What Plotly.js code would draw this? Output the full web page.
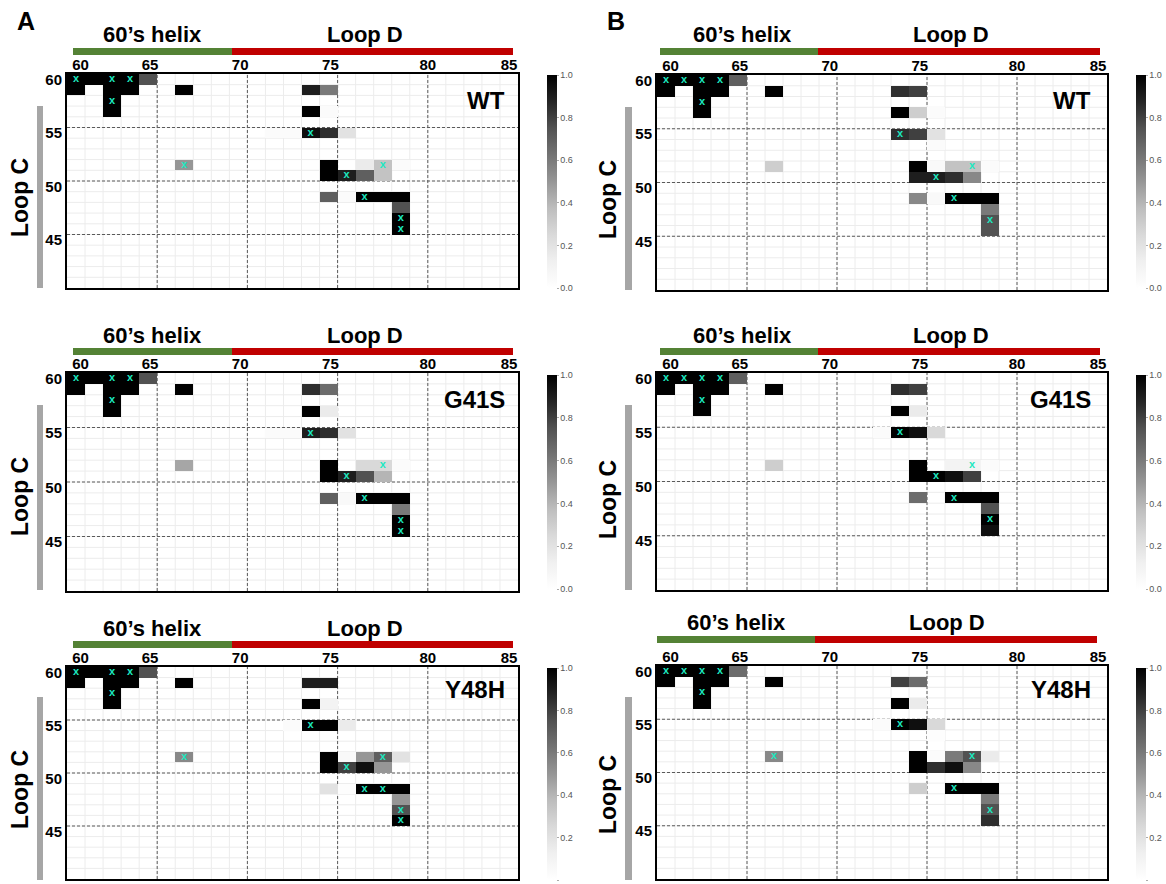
<!DOCTYPE html>
<html>
<head>
<meta charset="utf-8">
<script src="https://cdn.plot.ly/plotly-3.0.1.min.js"></script>
<style>html,body{margin:0;padding:0;background:#fff;}#chart{width:1166px;height:884px;}</style>
</head>
<body>
<div id="chart"></div>
<script>
// ---------- DATA ----------
// Loop D residues (columns) and Loop C residues (rows)
const loopD = [60,61,62,63,64,65,66,67,68,69,70,71,72,73,74,75,76,77,78,79,80,81,82,83,84];
const loopC = [60,59,58,57,56,55,54,53,52,51,50,49,48,47,46,45,44,43,42,41];
const xTickText = ['60','65','70','75','80','85'];
const yTickVals = [60,55,50,45];
const cbTicks = [0,0.2,0.4,0.6,0.8,1.0];

// non-zero cells: [Loop C residue, Loop D residue, value]
const cellsA_WT = [
 [60,60,1],[60,61,1],[60,62,1],[60,63,1],[60,64,0.75],
 [59,60,1],[59,62,1],[59,63,1],[59,66,1],[59,73,0.9],[59,74,0.6],
 [58,62,1],
 [57,62,1],[57,73,1],[57,74,0.03],
 [55,71,0.03],[55,72,0.03],[55,73,0.95],[55,74,0.85],[55,75,0.2],
 [52,66,0.5],[52,74,1],[52,76,0.15],[52,77,0.35],[52,78,0.03],
 [51,74,1],[51,75,0.9],[51,76,0.7],[51,77,0.35],
 [49,74,0.7],[49,75,0.03],[49,76,1],[49,77,1],[49,78,1],
 [48,78,0.75],[47,78,1],[46,78,1]
];
const marksA_WT = [[60,60],[60,62],[60,63],[58,62],[55,73],[52,66],[52,77],[51,75],[49,76],[47,78],[46,78]];

const cellsB_WT = [
 [60,60,1],[60,61,1],[60,62,1],[60,63,1],[60,64,0.7],
 [59,60,1],[59,62,1],[59,63,1],[59,66,1],[59,73,0.85],[59,74,0.8],
 [58,62,1],
 [57,62,1],[57,73,1],[57,74,0.3],[57,75,0.03],
 [55,73,0.85],[55,74,0.8],[55,75,0.2],
 [54,75,0.03],
 [52,66,0.3],[52,74,1],[52,75,0.05],[52,76,0.35],[52,77,0.35],[52,78,0.03],
 [51,74,0.9],[51,75,0.9],[51,76,0.85],[51,77,0.55],
 [49,74,0.55],[49,75,0.05],[49,76,1],[49,77,1],[49,78,1],
 [48,78,0.6],[47,78,0.75],[46,78,0.75]
];
const marksB_WT = [[60,60],[60,61],[60,62],[60,63],[58,62],[55,73],[52,77],[51,75],[49,76],[47,78]];

const cellsA_G41S = [
 [60,60,1],[60,61,1],[60,62,1],[60,63,1],[60,64,0.75],
 [59,60,1],[59,62,1],[59,63,1],[59,66,1],[59,73,0.85],[59,74,0.65],
 [58,62,1],
 [57,62,1],[57,73,1],[57,74,0.15],
 [55,71,0.03],[55,72,0.03],[55,73,0.9],[55,74,0.85],[55,75,0.2],
 [52,66,0.45],[52,74,1],[52,76,0.25],[52,77,0.25],[52,78,0.03],
 [51,74,1],[51,75,0.9],[51,76,0.75],[51,77,0.4],
 [49,74,0.7],[49,75,0.05],[49,76,1],[49,77,1],[49,78,1],
 [48,78,0.6],[47,78,1],[46,78,1]
];
const marksA_G41S = [[60,60],[60,62],[60,63],[58,62],[55,73],[52,77],[51,75],[49,76],[47,78],[46,78]];

const cellsB_G41S = [
 [60,60,1],[60,61,1],[60,62,1],[60,63,1],[60,64,0.7],
 [59,60,1],[59,62,1],[59,63,1],[59,66,1],[59,73,0.85],[59,74,0.8],
 [58,62,1],
 [57,62,1],[57,73,1],[57,74,0.15],
 [55,72,0.03],[55,73,1],[55,74,0.95],[55,75,0.25],
 [52,66,0.3],[52,74,1],[52,76,0.1],[52,77,0.1],[52,78,0.03],
 [51,74,1],[51,75,1],[51,76,0.95],[51,77,0.8],
 [49,74,0.65],[49,76,1],[49,77,1],[49,78,1],
 [48,78,0.75],[47,78,1],[46,78,0.95]
];
const marksB_G41S = [[60,60],[60,61],[60,62],[60,63],[58,62],[55,73],[52,77],[51,75],[49,76],[47,78]];

const cellsA_Y48H = [
 [60,60,1],[60,61,1],[60,62,1],[60,63,1],[60,64,0.75],
 [59,60,1],[59,62,1],[59,63,1],[59,66,1],[59,73,0.9],[59,74,0.9],
 [58,62,1],
 [57,62,1],[57,73,1],[57,74,0.1],
 [55,72,0.03],[55,73,1],[55,74,1],[55,75,0.15],
 [52,66,0.55],[52,74,1],[52,75,0.05],[52,76,0.5],[52,77,0.7],[52,78,0.2],
 [51,74,1],[51,75,0.8],[51,76,0.95],[51,77,0.5],
 [49,74,0.2],[49,75,0.02],[49,76,1],[49,77,1],[49,78,1],
 [48,78,0.5],[47,78,0.75],[46,78,1]
];
const marksA_Y48H = [[60,60],[60,62],[60,63],[58,62],[55,73],[52,66],[52,77],[51,75],[49,76],[49,77],[47,78],[46,78]];

const cellsB_Y48H = [
 [60,60,1],[60,61,1],[60,62,1],[60,63,1],[60,64,0.65],
 [59,60,1],[59,62,1],[59,63,1],[59,66,1],[59,73,0.8],[59,74,0.65],
 [58,62,1],
 [57,62,1],[57,73,1],[57,74,0.15],
 [55,72,0.03],[55,73,1],[55,74,0.95],[55,75,0.25],
 [54,75,0.02],
 [52,66,0.55],[52,74,1],[52,75,0.03],[52,76,0.6],[52,77,0.75],[52,78,0.15],
 [51,74,1],[51,75,0.85],[51,76,0.95],[51,77,0.55],
 [49,74,0.3],[49,76,1],[49,77,1],[49,78,1],
 [48,78,0.6],[47,78,0.75],[46,78,0.85]
];
const marksB_Y48H = [[60,60],[60,61],[60,62],[60,63],[58,62],[55,73],[52,66],[52,77],[49,76],[47,78]];

const panelNames = ['WT','WT','G41S','G41S','Y48H','Y48H'];
const panelCells = [cellsA_WT, cellsB_WT, cellsA_G41S, cellsB_G41S, cellsA_Y48H, cellsB_Y48H];
const panelMarks = [marksA_WT, marksB_WT, marksA_G41S, marksB_G41S, marksA_Y48H, marksB_Y48H];

// ---------- LAYOUT GEOMETRY (pixels) ----------
const W = 1166, H = 884;
const FONT = 'Arial, "Liberation Sans", Helvetica, sans-serif';
const PX = v => v / W;
const PY = v => 1 - v / H;

const cols = [
  {x0:67, x1:518, green:[73,232], red:[232,513], helixX:152, loopDX:365, lcBar:[37,43], lcText:20, cbX:547, labelX:507},
  {x0:657, x1:1107, green:[660,818], red:[818,1100], helixX:742, loopDX:951, lcBar:[625,632], lcText:608, cbX:1136, labelX:1093}
];
const rows = [
  {y:[[74,288],[75,290]], bar:[[48,55],[48,55]], title:[35,35], lcBar:[[106,288],[107,290]], lcText:[198,200], label:100, cb:[75,288]},
  {y:[[373,591],[373,590]], bar:[[348,355],[348,355]], title:[335,335], lcBar:[[405,590],[405,590]], lcText:[497,500], label:400, cb:[375,589]},
  {y:[[667,879],[666,879]], bar:[[641,648],[636,643]], title:[628,622], lcBar:[[697,880],[697,880]], lcText:[790,795], label:689, cb:[668,880]}
];

const greys = [[0,'#ffffff'],[0.125,'#f0f0f0'],[0.25,'#d9d9d9'],[0.375,'#bdbdbd'],[0.5,'#969696'],[0.625,'#737373'],[0.75,'#525252'],[0.875,'#252525'],[1,'#000000']];

const traces = [];
const layout = {
  width: W, height: H,
  margin: {l:0, r:0, t:0, b:0},
  paper_bgcolor: '#ffffff', plot_bgcolor: '#ffffff',
  showlegend: false,
  font: {family: FONT, color: '#000'},
  shapes: [], annotations: []
};

function buildZ(cells) {
  const z = loopC.map(() => loopD.map(() => null));
  cells.forEach(([c, d, v]) => {
    const i = loopC.indexOf(c), j = loopD.indexOf(d);
    if (i >= 0 && j >= 0 && v > 0) z[i][j] = v;
  });
  return z;
}

for (let p = 0; p < 6; p++) {
  const ci = p % 2, ri = Math.floor(p / 2);
  const col = cols[ci], row = rows[ri];
  const n = p + 1, sfx = n === 1 ? '' : String(n);
  const xa = 'x' + sfx, ya = 'y' + sfx;
  const [yt, yb] = row.y[ci];

  traces.push({
    type: 'heatmap', xaxis: xa, yaxis: ya,
    x: loopD, y: loopC, z: buildZ(panelCells[p]),
    zmin: 0, zmax: 1, colorscale: greys, hoverinfo: 'skip',
    showscale: true,
    colorbar: {
      x: PX(col.cbX), xanchor: 'left', xpad: 0, ypad: 0,
      y: PY(row.cb[0]), yanchor: 'top',
      len: row.cb[1] - row.cb[0], lenmode: 'pixels',
      thickness: 10, thicknessmode: 'pixels',
      outlinewidth: 0,
      tickmode: 'array', tickvals: cbTicks, ticktext: cbTicks.map(v => v.toFixed(1)),
      ticks: 'outside', ticklen: 2, tickcolor: '#aaa',
      tickfont: {family: FONT, size: 9, color: '#555'}
    }
  });
  const mk = panelMarks[p];
  traces.push({
    type: 'scatter', mode: 'text', xaxis: xa, yaxis: ya,
    x: mk.map(m => m[1]), y: mk.map(m => m[0]),
    text: mk.map(() => 'x'), textposition: 'middle center',
    textfont: {family: FONT, size: 11, color: '#1de8c0', weight: 'bold'},
    hoverinfo: 'skip'
  });

  const axBase = {
    showgrid: false, zeroline: false, showline: true, mirror: true,
    linecolor: '#000', linewidth: 2, ticks: '', fixedrange: true,
    tickfont: {family: FONT, size: 15, color: '#000', weight: 'bold'}
  };
  layout['xaxis' + sfx] = Object.assign({}, axBase, {
    domain: [PX(col.x0), PX(col.x1)], anchor: ya, side: 'top',
    range: [59.5, 84.5], tickmode: 'array', ticklabelstandoff: -4,
    tickvals: [60.25, 64.1, 69.1, 74.1, 79.5, 84.0], ticktext: xTickText
  });
  layout['yaxis' + sfx] = Object.assign({}, axBase, {
    domain: [PY(yb), PY(yt)], anchor: xa,
    range: [40.5, 60.5], tickmode: 'array', tickvals: yTickVals,
    ticktext: yTickVals.map(String)
  });

  // light cell grid
  for (let k = 1; k < loopD.length; k++) {
    layout.shapes.push({type:'line', xref:xa, yref:ya, layer:'below',
      x0: 59.5 + k, x1: 59.5 + k, y0: 40.5, y1: 60.5, line:{color:'#ececec', width:1}});
  }
  for (let k = 1; k < loopC.length; k++) {
    layout.shapes.push({type:'line', xref:xa, yref:ya, layer:'below',
      x0: 59.5, x1: 84.5, y0: 40.5 + k, y1: 40.5 + k, line:{color:'#ececec', width:1}});
  }
  // dashed major grid
  [64.5, 69.5, 74.5, 79.5].forEach(v => layout.shapes.push({type:'line', xref:xa, yref:ya, layer:'below',
    x0: v, x1: v, y0: 40.5, y1: 60.5, line:{color:'#5a5a5a', width:1, dash:'3px,2px'}}));
  [45.5, 50.5, 55.5].forEach(v => layout.shapes.push({type:'line', xref:xa, yref:ya, layer:'below',
    x0: 59.5, x1: 84.5, y0: v, y1: v, line:{color:'#5a5a5a', width:1, dash:'3px,2px'}}));

  // header bars
  const [bt, bb] = row.bar[ci];
  let g = col.green, r = col.red;
  if (ri === 2 && ci === 1) { g = [657, 815]; r = [815, 1097]; }
  layout.shapes.push({type:'rect', xref:'paper', yref:'paper', x0:PX(g[0]), x1:PX(g[1]), y0:PY(bb), y1:PY(bt),
    fillcolor:'#548235', line:{width:0}});
  layout.shapes.push({type:'rect', xref:'paper', yref:'paper', x0:PX(r[0]), x1:PX(r[1]), y0:PY(bb), y1:PY(bt),
    fillcolor:'#c00000', line:{width:0}});
  // Loop C bar
  const [lt, lb] = row.lcBar[ci];
  layout.shapes.push({type:'rect', xref:'paper', yref:'paper', x0:PX(col.lcBar[0]), x1:PX(col.lcBar[1]), y0:PY(lb), y1:PY(lt),
    fillcolor:'#a6a6a6', line:{width:0}});

  const helixX = (ri === 2 && ci === 1) ? col.helixX - 6 : col.helixX;
  const loopDX = (ri === 2 && ci === 1) ? col.loopDX - 4 : col.loopDX;
  layout.annotations.push(
    {xref:'paper', yref:'paper', x:PX(helixX), y:PY(row.title[ci]), text:'60’s helix', showarrow:false,
     xanchor:'center', yanchor:'middle', font:{family:FONT, size:22, color:'#000', weight:'bold'}},
    {xref:'paper', yref:'paper', x:PX(loopDX), y:PY(row.title[ci]), text:'Loop D', showarrow:false,
     xanchor:'center', yanchor:'middle', font:{family:FONT, size:22, color:'#000', weight:'bold'}},
    {xref:'paper', yref:'paper', x:PX(col.lcText), y:PY(row.lcText[ci]), text:'Loop C', showarrow:false,
     textangle:-90, xanchor:'center', yanchor:'middle', font:{family:FONT, size:23, color:'#000', weight:'bold'}},
    {xref:'paper', yref:'paper', x:PX(col.labelX), y:PY(row.label), text:panelNames[p], showarrow:false,
     xanchor:'right', yanchor:'middle', font:{family:FONT, size:24, color:'#000', weight:'bold'}}
  );
}

layout.annotations.push(
  {xref:'paper', yref:'paper', x:PX(26), y:PY(21), text:'A', showarrow:false, xanchor:'center', yanchor:'middle',
   font:{family:FONT, size:25, color:'#000', weight:'bold'}},
  {xref:'paper', yref:'paper', x:PX(616), y:PY(21), text:'B', showarrow:false, xanchor:'center', yanchor:'middle',
   font:{family:FONT, size:25, color:'#000', weight:'bold'}}
);

Plotly.newPlot('chart', traces, layout, {staticPlot: true, displayModeBar: false});
</script>
</body>
</html>
